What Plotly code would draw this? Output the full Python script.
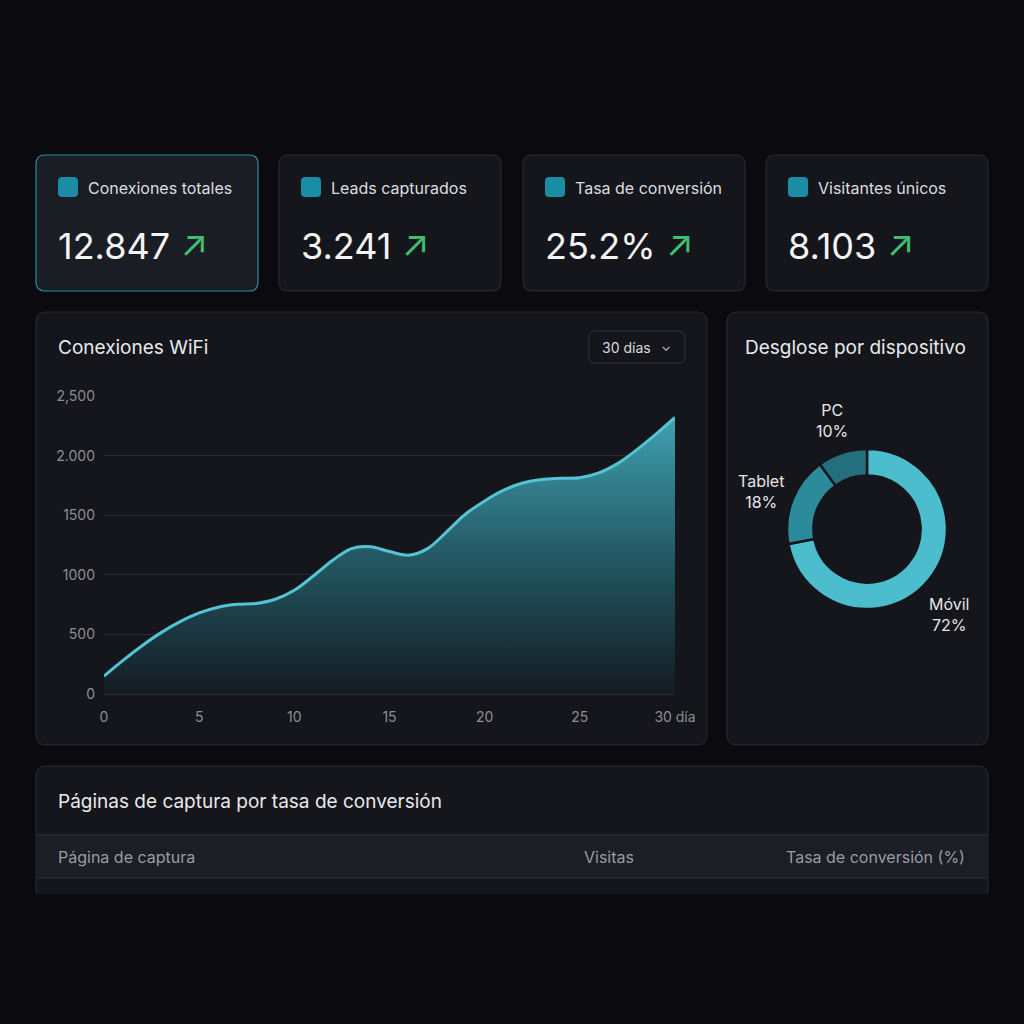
import math
import plotly.graph_objects as go

# ---------------- data ----------------
kpi_labels = ["Conexiones totales", "Leads capturados", "Tasa de conversión", "Visitantes únicos"]
kpi_values = ["12.847", "3.241", "25.2%", "8.103"]

days = list(range(0, 31))
connections = [150, 282, 405, 515, 607, 680, 728, 752, 760, 795,
               870, 990, 1120, 1220, 1235, 1195, 1165, 1220, 1360, 1510,
               1620, 1710, 1770, 1800, 1810, 1815, 1855, 1935, 2050, 2180, 2320]
y_tickvals = [0, 500, 1000, 1500, 2000, 2500]
y_ticktext = ["0", "500", "1000", "1500", "2.000", "2,500"]
x_tickvals = [0, 5, 10, 15, 20, 25, 30]
x_ticktext = ["0", "5", "10", "15", "20", "25", "30 día"]

devices = ["Móvil", "Tablet", "PC"]
device_share = [72, 18, 10]

table_headers = ["Página de captura", "Visitas", "Tasa de conversión (%)"]

# ---------------- style ----------------
W = H = 1024
BG = "#0b0b0f"
CARD = "#15161b"
BORDER = "#2a2c33"
TEXT = "#e8e9ec"
MUTED = "#8b8e96"
TEAL_ICON = "#1a8ca3"
FONT = "Inter, 'Noto Sans', 'DejaVu Sans', sans-serif"


def px(x):
    return x / W


def py(y):
    return 1 - y / H


def rrect(x0, y0, x1, y1, r):
    X0, X1 = px(x0), px(x1)
    pts = [
        f"M {px(x0 + r)},{py(y0)}",
        f"L {px(x1 - r)},{py(y0)}",
        f"Q {X1},{py(y0)} {X1},{py(y0 + r)}",
        f"L {X1},{py(y1 - r)}",
        f"Q {X1},{py(y1)} {px(x1 - r)},{py(y1)}",
        f"L {px(x0 + r)},{py(y1)}",
        f"Q {X0},{py(y1)} {X0},{py(y1 - r)}",
        f"L {X0},{py(y0 + r)}",
        f"Q {X0},{py(y0)} {px(x0 + r)},{py(y0)}",
        "Z",
    ]
    return " ".join(pts)


shapes = []
annotations = []


def card(x0, y0, x1, y1, r=9, fill=CARD, line=BORDER, lw=1):
    shapes.append(dict(type="path", xref="paper", yref="paper", path=rrect(x0, y0, x1, y1, r),
                       fillcolor=fill, line=dict(color=line, width=lw), layer="below"))


def text(x, y, s, size=16, color=TEXT, xanchor="left", yanchor="middle"):
    annotations.append(dict(x=px(x), y=py(y), xref="paper", yref="paper", text=s, showarrow=False,
                            xanchor=xanchor, yanchor=yanchor,
                            font=dict(size=size, color=color, family=FONT)))


# KPI cards
card_x = [36, 279, 523, 766]
for i, (lab, val) in enumerate(zip(kpi_labels, kpi_values)):
    x0 = card_x[i]
    if i == 0:
        card(x0, 155, x0 + 222, 291, fill="#1a1d23", line="#2b8d9b", lw=1.2)
    else:
        card(x0, 155, x0 + 222, 291)
    shapes.append(dict(type="path", xref="paper", yref="paper",
                       path=rrect(x0 + 22, 177, x0 + 42, 197, 4),
                       fillcolor=TEAL_ICON, line=dict(width=0)))
    text(x0 + 50, 188, lab, size=16, color="#dcdde0")
    text(x0 + 20, 246, f"{val} <span style='color:#3fbf6f'>↗</span>", size=36, color="#f4f4f6")

# Panels
card(36, 312, 707, 745, r=10)
card(727, 312, 988, 745, r=10)
card(36, 766, 988, 900, r=10)

text(56, 347, "Conexiones WiFi", size=19)
shapes.append(dict(type="path", xref="paper", yref="paper", path=rrect(589, 331, 685, 363, 6),
                   fillcolor=CARD, line=dict(color="#34363d", width=1)))
text(600, 347, "30 días", size=14, color="#d9dadd")
text(666, 346, "⌄", size=13, color="#b9bbc0", xanchor="center")

text(855, 347, "Desglose por dispositivo", size=19, xanchor="center")

text(56, 801, "Páginas de captura por tasa de conversión", size=19)
shapes.append(dict(type="rect", xref="paper", yref="paper", x0=px(36.5), x1=px(987.5), y0=py(878), y1=py(835),
                   fillcolor="#1b1e25", line=dict(width=0), layer="below"))
shapes.append(dict(type="line", xref="paper", yref="paper", x0=px(36.5), x1=px(987.5), y0=py(835), y1=py(835),
                   line=dict(color="#2e3138", width=1)))
shapes.append(dict(type="line", xref="paper", yref="paper", x0=px(36.5), x1=px(987.5), y0=py(878), y1=py(878),
                   line=dict(color="#2e3138", width=1)))
hdr_x = [(56, "left"), (636, "right"), (967, "right")]
for (hx, anc), h in zip(hdr_x, table_headers):
    text(hx, 857, h, size=16, color="#9a9ca3", xanchor=anc)

# cut-off bottom of page
shapes.append(dict(type="rect", xref="paper", yref="paper", x0=0, x1=1, y0=0, y1=py(894),
                   fillcolor=BG, line=dict(width=0), layer="above"))

# ---------------- traces ----------------
fig = go.Figure()
fig.add_trace(go.Scatter(
    x=days, y=connections, mode="lines",
    line=dict(color="#52c4d3", width=3, shape="spline", smoothing=1.0),
    fill="tozeroy",
    fillgradient=dict(type="vertical", start=0, stop=max(connections),
                      colorscale=[[0, "rgba(20,27,34,0.95)"], [0.5, "rgba(36,92,104,0.95)"],
                                  [1, "rgba(66,168,184,0.95)"]]),
    hoverinfo="skip", showlegend=False,
))

# donut
cx, cy, R = 867, 529, 80
fig.add_trace(go.Pie(
    labels=devices, values=device_share, hole=0.67, sort=False, direction="clockwise", rotation=0,
    marker=dict(colors=["#4bbdcc", "#2b8b9b", "#246f7d"], line=dict(color=CARD, width=2.5)),
    textinfo="none", hoverinfo="skip", showlegend=False,
    domain=dict(x=[px(cx - R), px(cx + R)], y=[py(cy + R), py(cy - R)]),
))
label_nudge = {"Móvil": (-6, 13), "Tablet": (0, 4), "PC": (0, 0)}
total = sum(device_share)
cum = 0
for lab, v in zip(devices, device_share):
    mid = 2 * math.pi * (cum + v / 2) / total
    cum += v
    r_lab = 114
    dx, dy = label_nudge[lab]
    lx = cx + r_lab * math.sin(mid) + dx
    ly = cy - r_lab * math.cos(mid) + dy
    text(lx, ly, f"{lab}<br>{v}%", size=16, color="#e4e5e8", xanchor="center")

fig.update_layout(
    width=W, height=H, autosize=False,
    margin=dict(l=0, r=0, t=0, b=0, pad=0, autoexpand=False),
    showlegend=False,
    paper_bgcolor=BG, plot_bgcolor="rgba(0,0,0,0)",
    font=dict(family=FONT, color=MUTED),
    shapes=shapes, annotations=annotations,
    xaxis=dict(domain=[px(104), px(675)], range=[0, 30], tickvals=x_tickvals, ticktext=x_ticktext,
               showgrid=False, zeroline=False, showline=False, ticks="", automargin=False,
               tickfont=dict(size=14, color=MUTED), ticklabelstandoff=13, fixedrange=True),
    yaxis=dict(domain=[py(694), py(396)], range=[0, 2500], tickvals=y_tickvals, ticktext=y_ticktext,
               showgrid=True, gridcolor="#2a2c33", gridwidth=1, zeroline=True, zerolinecolor="#2e3037",
               zerolinewidth=1, showline=False, ticks="", tickfont=dict(size=14, color=MUTED), automargin=False,
               ticklabelstandoff=8, fixedrange=True),
)

fig.write_html("out.html", config={"displayModeBar": False},
               post_script="document.body.style.margin='0';document.body.style.overflow='hidden';")
